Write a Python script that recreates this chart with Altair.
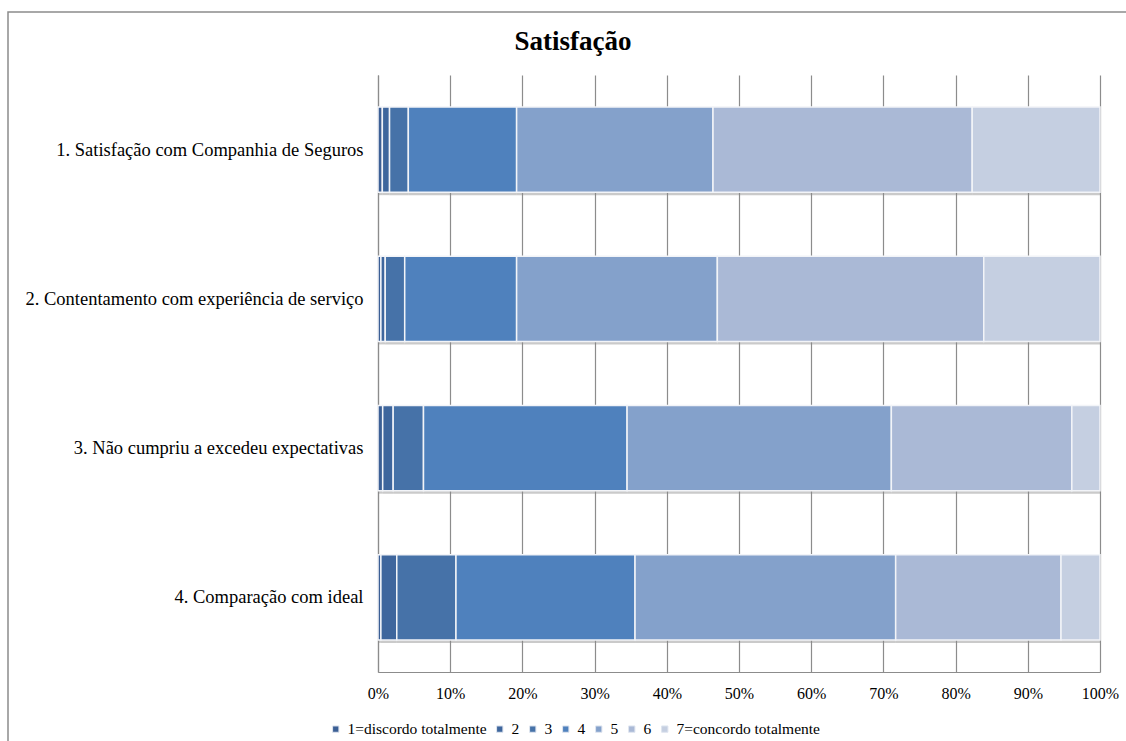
import altair as alt
import pandas as pd

# Survey items (y axis) and the 7-point agreement scale (stack segments)
questions = [
    "1. Satisfação com Companhia de Seguros",
    "2. Contentamento com experiência de serviço",
    "3. Não cumpriu a excedeu expectativas",
    "4. Comparação com ideal",
]
levels = ["1=discordo totalmente", "2", "3", "4", "5", "6", "7=concordo totalmente"]
colors = ["#3b5f95", "#3e669d", "#4672a8", "#4f81bd", "#84a1cb", "#aab9d6", "#c5cfe1"]

# Share of answers (%) per level, one list per question
q1 = [0.6, 1.0, 2.6, 15.0, 27.2, 35.9, 17.7]
q2 = [0.4, 0.6, 2.7, 15.5, 27.8, 36.9, 16.1]
q3 = [0.65, 1.45, 4.2, 28.2, 36.6, 25.0, 3.9]
q4 = [0.4, 2.2, 8.2, 24.8, 36.1, 22.9, 5.4]

rows = []
for q, vals in zip(questions, [q1, q2, q3, q4]):
    for i, (lv, v) in enumerate(zip(levels, vals)):
        rows.append({"pergunta": q, "nivel": lv, "ordem": i, "valor": v / 100})
df = pd.DataFrame(rows)

FONT = "'Liberation Serif', 'Times New Roman', 'DejaVu Serif', serif"
W, H = 722, 597

y_enc = alt.Y(
    "pergunta:N",
    sort=questions,
    scale=alt.Scale(paddingInner=0.43, paddingOuter=0.215),
    axis=alt.Axis(
        title=None, ticks=False, labelFont=FONT, labelFontSize=18.5,
        labelColor="#000000", labelPadding=15, labelLimit=400,
        domainColor="#8c8c8c", domainWidth=1.2,
    ),
)
x_enc = alt.X(
    "valor:Q",
    stack="zero",
    scale=alt.Scale(domain=[0, 1], nice=False),
    axis=alt.Axis(
        title=None, format=".0%", values=[i / 10 for i in range(11)],
        ticks=False, grid=True, gridColor="#8c8c8c", gridWidth=1.2,
        domainColor="#8c8c8c", domainWidth=1.2, labelFlush=False,
        labelFont=FONT, labelFontSize=16, labelColor="#000000", labelPadding=13,
    ),
)

shadow = alt.Chart(df).mark_bar(color="#8a8a8a", opacity=0.45, yOffset=3).encode(
    y=y_enc, x=x_enc, order=alt.Order("ordem:Q")
)

bars = alt.Chart(df).mark_bar(stroke="#f2f4f8", strokeWidth=1.5).encode(
    y=y_enc,
    x=x_enc,
    color=alt.Color(
        "nivel:N",
        sort=levels,
        scale=alt.Scale(domain=levels, range=colors),
        legend=alt.Legend(
            title=None, orient="none", direction="horizontal", columns=7,
            legendX=-50, legendY=646, symbolType="square", symbolSize=40,
            symbolStrokeColor="#dfe5ef", symbolStrokeWidth=1,
            labelFont=FONT, labelFontSize=15.5, labelColor="#000000",
            labelOffset=4, columnPadding=5, labelLimit=300,
        ),
    ),
    order=alt.Order("ordem:Q"),
)

title = alt.Chart(pd.DataFrame({"t": ["Satisfação"]})).mark_text(
    font=FONT, fontSize=27, fontWeight="bold", color="#000000", align="center", baseline="middle"
).encode(text="t:N", x=alt.value(195), y=alt.value(-33))

frame = alt.Chart(pd.DataFrame({"a": [0]})).mark_rect(
    fill=None, stroke="#8c8c8c", strokeWidth=1.5
).encode(x=alt.value(-370), x2=alt.value(900), y=alt.value(-63), y2=alt.value(900))

chart = (
    alt.layer(frame, shadow, bars, title)
    .properties(
        width=W, height=H,
        autosize=alt.AutoSizeParams(type="none"),
        padding={"left": 378, "top": 75, "right": 26, "bottom": 69},
        background="#ffffff",
    )
    .configure_view(stroke=None)
)

chart.save("out.html", embed_options={"renderer": "svg", "actions": False})
